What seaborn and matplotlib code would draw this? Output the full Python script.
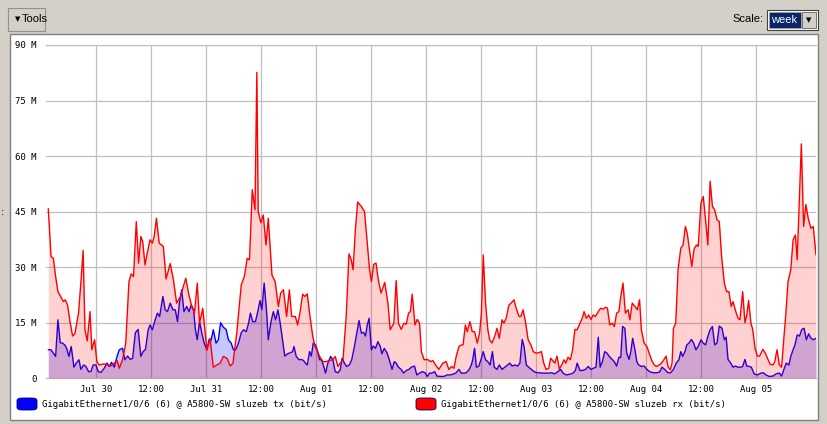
import numpy as np
import pandas as pd
import matplotlib
matplotlib.use("Agg")
import matplotlib.pyplot as plt
import seaborn as sns
from matplotlib.patches import Rectangle, FancyBboxPatch

# ---- data: hours relative to Jul 30 00:00, values in Mbit/s ----
rx_hours = [-10.5,-9.9,-9.4,-8.9,-8.4,-7.8,-7.2,-6.8,-6.3,-5.7,-5.2,-4.7,-3.9,-3.4,-2.9,-2.5,-2.0,-1.4,-1.0,-0.4,
            0.1,0.6,1.7,2.4,3.1,3.9,4.5,5.0,5.7,6.4,7.1,7.6,8.1,8.7,9.2,9.7,10.1,10.6,11.1,11.7,
            12.2,12.6,13.1,13.7,14.6,15.2,16.1,16.8,17.5,18.3,19.5,20.1,20.8,21.4,22.0,22.5,23.2,24.1,24.8,25.5,
            26.3,27.0,27.7,28.5,29.2,29.8,30.1,30.6,31.6,32.3,32.9,33.4,34.0,34.6,35.0,35.3,35.9,36.4,37.0,37.5,
            38.3,39.0,39.7,40.2,40.8,41.5,42.1,42.6,43.4,43.9,44.4,45.0,45.5,46.0,46.6,47.2,47.7,48.1,48.7,49.4,
            50.1,50.8,51.6,52.1,52.7,53.2,53.8,54.5,55.1,55.6,56.0,56.5,57.0,57.8,58.5,59.1,59.6,60.0,60.5,61.0,
            61.5,62.1,62.9,63.6,64.1,64.9,65.4,65.9,66.5,67.1,67.6,68.1,68.5,68.9,69.5,70.0,70.5,70.9,71.5,72.2,
            72.9,73.4,74.0,74.7,75.6,76.3,76.9,77.5,78.0,78.5,79.1,79.6,80.0,80.5,80.9,81.5,82.0,82.5,83.1,83.6,
            84.0,84.4,84.9,85.4,85.8,86.3,86.9,87.4,87.9,88.5,88.9,89.4,90.0,90.5,91.1,91.6,92.2,92.6,93.1,93.6,
            94.2,94.8,95.3,95.9,96.5,97.1,97.6,98.1,98.7,99.1,99.4,100.0,100.5,101.0,101.5,102.0,102.4,102.9,103.4,103.9,
            104.4,104.9,105.5,106.0,106.4,106.9,107.4,107.9,108.4,108.9,109.5,110.0,110.6,111.1,111.5,112.0,112.5,113.0,113.5,114.0,
            114.4,114.9,115.4,116.0,116.4,116.9,117.5,118.0,118.5,118.9,119.5,120.1,120.6,121.1,121.7,122.2,122.8,123.3,123.8,124.3,
            124.7,125.2,125.6,125.9,126.4,126.9,127.5,128.0,128.5,128.9,129.5,129.9,130.4,130.9,131.3,131.9,132.4,132.9,133.4,133.9,
            134.4,134.9,135.4,135.9,136.4,137.0,137.5,138.0,138.5,138.9,139.5,140.0,140.4,141.0,141.5,141.9,142.3,142.8,143.2,143.7,
            144.2,144.7,145.4,145.9,146.4,147.0,147.6,148.0,148.5,149.0,149.5,149.9,150.4,150.9,151.5,152.0,152.5,152.9,153.4,153.8,
            154.3,154.8,155.3,155.9,156.4,157.0]
rx_mbit = [45.8,32.9,32.4,27.5,23.4,22.1,20.7,21.2,19.8,14.9,11.4,12.0,17.6,25.7,34.5,13.1,10.1,18.0,7.7,10.4,
           4.5,3.6,3.9,3.6,3.3,4.1,4.8,2.7,5.0,9.5,26.1,28.2,27.5,42.3,31.1,38.3,36.9,30.6,33.8,37.4,
           36.5,38.3,43.2,36.5,35.6,26.8,31.0,26.6,20.3,22.0,27.0,23.0,19.4,17.6,25.7,14.9,18.9,7.6,10.8,3.0,
           3.6,4.1,5.9,5.4,3.3,4.1,7.2,12.0,25.2,27.6,32.4,32.0,50.9,45.5,82.6,45.0,42.0,44.1,36.0,43.2,
           27.9,26.1,19.4,23.0,23.9,16.7,23.9,16.7,16.7,14.4,17.6,22.7,22.1,22.8,16.7,11.3,8.6,7.7,5.9,4.5,
           4.5,4.8,5.0,5.9,3.2,4.1,5.0,16.7,33.6,32.0,29.3,40.1,47.6,46.4,45.0,36.5,29.3,26.1,30.8,31.1,
           26.6,23.0,25.9,20.3,13.1,14.9,26.4,14.9,13.2,14.9,14.6,17.6,18.0,22.7,14.4,15.9,14.9,7.2,5.0,5.1,
           4.5,4.8,3.6,2.4,4.1,4.5,2.4,3.2,2.7,5.9,8.6,9.0,9.0,14.4,12.6,15.3,12.6,12.6,9.5,12.2,
           17.6,33.3,20.3,13.1,10.4,9.5,11.3,13.5,10.8,15.8,14.9,16.2,19.8,20.3,21.2,18.9,16.7,16.7,18.5,15.3,
           10.4,9.0,7.2,6.8,6.9,7.2,4.1,2.4,2.7,5.4,5.0,4.1,6.0,2.4,3.6,5.0,4.1,5.7,5.0,7.7,
           13.2,13.1,14.9,16.2,18.0,16.2,17.1,15.9,17.1,16.7,18.0,18.9,18.7,19.2,18.9,14.4,14.9,14.0,17.6,18.0,
           22.1,25.7,17.6,18.5,15.8,20.3,19.4,18.5,21.2,13.1,9.5,8.6,6.8,5.0,3.6,3.2,3.6,4.1,5.0,6.0,
           3.2,2.3,4.1,13.5,14.9,29.3,35.1,36.0,41.0,39.2,33.8,30.2,34.9,36.0,35.6,47.3,49.1,42.8,36.0,53.2,
           46.4,45.5,42.8,42.3,32.9,25.7,23.4,23.4,19.4,20.7,18.0,16.2,15.8,23.4,15.0,17.1,21.0,14.9,13.1,8.1,
           6.0,6.0,7.8,6.9,5.4,3.8,3.6,4.5,7.7,3.6,3.0,9.5,17.1,26.1,29.3,37.4,38.7,32.0,49.1,63.3,
           41.0,46.9,43.2,40.5,41.0,33.3]

tx_hours = [-10.5,-9.9,-9.4,-8.9,-8.4,-7.9,-7.4,-6.9,-6.5,-6.0,-5.5,-4.9,-4.4,-3.8,-3.4,-2.8,-2.3,-1.7,-1.2,-0.7,
            -0.1,0.4,1.0,1.7,2.3,2.8,3.3,3.9,4.5,5.0,5.7,6.2,6.8,7.4,7.9,8.5,9.1,9.7,10.2,10.7,
            11.3,11.7,12.2,12.7,13.3,13.8,14.5,15.0,15.5,16.1,16.7,17.2,17.7,18.1,18.6,19.1,19.7,20.2,20.7,21.2,
            21.6,22.0,22.5,23.0,23.5,24.1,24.6,25.0,25.5,26.1,26.6,27.1,27.7,28.3,28.8,29.4,29.9,30.4,31.0,31.6,
            32.1,32.7,33.2,33.6,34.1,34.7,35.2,35.7,36.1,36.6,37.1,37.5,38.1,38.6,39.1,39.6,40.1,40.6,41.1,41.7,
            42.3,42.8,43.1,43.6,44.2,44.7,45.2,45.6,46.0,46.5,46.9,47.3,47.8,48.2,48.7,49.1,49.5,50.0,50.5,51.1,
            51.6,52.1,52.7,53.2,53.6,54.1,54.6,55.2,55.7,56.3,56.8,57.3,57.8,58.3,58.7,59.1,59.5,60.0,60.4,60.9,
            61.4,61.9,62.3,62.8,63.4,63.9,64.5,65.0,65.4,65.9,66.5,67.0,67.6,68.2,68.7,69.4,69.9,70.5,71.1,71.7,
            72.2,72.7,73.2,73.8,74.3,75.1,75.8,76.5,77.2,78.0,78.5,79.1,79.6,80.2,80.7,81.3,81.8,82.1,82.5,82.9,
            83.4,83.9,84.4,84.9,85.4,85.9,86.4,86.8,87.4,87.9,88.5,89.1,89.7,90.2,90.7,91.3,91.9,92.4,92.9,93.3,
            93.8,94.3,94.9,95.5,96.1,96.7,97.2,98.0,98.7,99.3,100.0,100.7,101.3,101.8,102.5,103.3,104.0,104.5,104.9,105.5,
            106.0,106.7,107.3,107.9,108.4,109.0,109.5,109.9,110.4,110.9,111.4,111.9,112.5,113.0,113.5,114.0,114.4,114.8,115.3,115.7,
            116.2,116.6,117.0,117.5,117.9,118.3,118.9,119.5,120.1,120.7,121.5,122.2,122.9,123.4,124.0,124.7,125.3,125.9,126.5,127.1,
            127.5,127.9,128.4,128.8,129.3,129.8,130.3,130.8,131.3,131.9,132.4,132.9,133.4,133.9,134.4,134.9,135.4,135.9,136.5,137.0,
            137.4,137.8,138.4,138.9,139.4,140.0,140.6,141.0,141.5,141.9,142.4,142.9,143.5,144.2,145.0,145.5,146.1,146.8,147.6,148.3,
            149.0,149.5,150.0,150.5,151.1,151.5,152.0,152.4,152.9,153.4,153.9,154.4,154.9,155.4,155.9,156.4,157.0]
tx_mbit = [7.7,7.7,6.8,5.9,15.8,9.6,9.5,9.0,8.1,5.9,8.6,3.0,4.1,5.0,2.4,3.6,3.2,1.8,1.8,3.6,
           3.6,1.8,1.6,2.7,4.1,3.2,4.3,3.0,5.9,7.7,8.1,5.0,6.0,5.1,5.4,12.3,13.2,5.9,7.2,7.8,
           13.1,14.4,13.1,15.3,17.6,16.7,22.1,18.5,18.0,20.3,18.5,18.5,15.3,20.3,23.9,18.0,19.4,18.0,19.8,18.5,
           13.1,10.4,15.3,12.2,9.5,7.7,10.5,10.2,13.1,9.5,10.4,15.0,13.8,13.2,10.4,9.5,7.7,7.7,9.5,12.3,
           13.1,12.6,14.9,17.6,15.3,15.3,18.0,21.0,18.5,25.7,18.5,10.4,15.3,18.0,15.8,18.5,14.9,10.4,6.0,6.6,
           6.9,7.2,8.6,5.9,5.0,5.1,4.8,4.1,3.6,7.2,6.0,9.5,9.0,7.5,5.0,5.0,3.6,1.4,4.1,5.9,
           5.0,1.8,1.5,2.3,5.4,4.1,3.2,3.6,5.0,8.6,12.2,15.6,12.2,12.4,11.4,14.4,16.2,7.7,8.7,8.1,
           9.9,8.7,6.6,8.1,6.9,5.0,2.4,4.5,4.1,3.0,2.4,1.4,2.1,2.4,3.0,3.3,0.9,1.4,1.8,1.5,
           0.5,1.4,1.4,1.8,0.6,0.5,0.5,0.9,0.9,1.2,1.5,2.4,1.4,1.4,1.5,2.3,3.6,5.0,8.1,3.0,
           3.2,5.0,7.2,5.0,4.5,3.6,7.2,3.0,2.4,3.6,2.4,3.0,3.6,4.1,3.3,3.6,3.3,4.1,10.5,8.6,
           3.6,3.0,2.4,1.8,1.5,1.5,1.4,1.4,1.4,1.5,1.2,1.8,2.4,1.4,0.9,1.1,1.4,2.1,4.1,2.1,
           2.1,2.4,3.2,2.4,2.7,3.0,11.1,3.0,4.5,7.2,6.8,5.9,5.1,4.5,3.3,5.7,5.6,14.0,13.5,6.8,
           5.1,7.2,10.8,7.7,4.5,3.6,3.2,3.3,2.4,1.8,1.5,1.5,1.7,3.0,2.4,1.5,1.5,2.4,4.1,5.0,
           7.2,5.9,7.2,9.0,9.5,10.5,9.5,7.7,8.6,10.4,9.5,9.0,11.3,13.1,14.0,9.0,9.5,14.1,13.5,10.4,
           11.1,5.1,4.1,3.0,3.3,3.0,3.0,3.2,5.1,3.3,3.2,3.0,1.2,0.9,1.4,1.5,0.9,0.5,0.6,1.2,
           1.4,0.6,2.4,4.1,3.6,5.9,7.7,9.0,11.7,11.4,13.2,13.5,10.4,12.0,10.8,10.4,10.8]

tick_hours = [0, 12, 24, 36, 48, 60, 72, 84, 96, 108, 120, 132, 144]
tick_labels = ["Jul 30", "12:00", "Jul 31", "12:00", "Aug 01", "12:00", "Aug 02",
               "12:00", "Aug 03", "12:00", "Aug 04", "12:00", "Aug 05"]
y_ticks = [0, 15, 30, 45, 60, 75, 90]
y_labels = ["0", "15 M", "30 M", "45 M", "60 M", "75 M", "90 M"]
series_names = ["GigabitEthernet1/0/6 (6) @ A5800-SW sluzeb tx (bit/s)",
                "GigabitEthernet1/0/6 (6) @ A5800-SW sluzeb rx (bit/s)"]

tx_df = pd.DataFrame({"hour": tx_hours, "mbit": tx_mbit})
rx_df = pd.DataFrame({"hour": rx_hours, "mbit": rx_mbit})

# ---- figure / layout ----
W, H = 827, 424
sns.set_style("white")
plt.rcParams["font.family"] = ["DejaVu Sans"]
fig = plt.figure(figsize=(W / 100, H / 100), dpi=100, facecolor="#D4D0C8")

def fx(px):
    return px / W

def fy(py):
    return 1 - py / H

mono = "DejaVu Sans Mono"

# white panel
fig.patches.append(Rectangle((fx(10), fy(420)), (818 - 10) / W, (420 - 34) / H,
                             transform=fig.transFigure, facecolor="white",
                             edgecolor="#808080", lw=1, zorder=-2))

ax = fig.add_axes([fx(46), fy(378.3), (816 - 46) / W, (378.3 - 45) / H])
ax.set_facecolor("none")

ax.fill_between(tx_df["hour"], 0, tx_df["mbit"], color=(0, 0, 1, 0.22), lw=0, zorder=2)
sns.lineplot(data=tx_df, x="hour", y="mbit", color="#0000FF", lw=1.0, ax=ax,
             estimator=None, sort=False, zorder=3)
ax.fill_between(rx_df["hour"], 0, rx_df["mbit"], color=(1, 0, 0, 0.18), lw=0, zorder=4)
sns.lineplot(data=rx_df, x="hour", y="mbit", color="#FF0000", lw=1.0, ax=ax,
             estimator=None, sort=False, zorder=5)

ax.set_xlim(-11.0, 157.0)
ax.set_ylim(0, 90)
ax.set_xticks(tick_hours)
ax.set_xticklabels(tick_labels, fontfamily=mono, fontsize=6.5, color="black")
ax.set_yticks(y_ticks)
ax.set_yticklabels(y_labels, fontfamily=mono, fontsize=6.5, color="black")
ax.tick_params(axis="x", length=0, pad=4.5)
ax.tick_params(axis="y", length=0, pad=6.5)
ax.set_xlabel("")
ax.set_ylabel("")
ax.grid(True, color="#C0C0C0", lw=0.9)
ax.set_axisbelow(True)
for side in ["left", "right"]:
    ax.spines[side].set_visible(False)
for side in ["top", "bottom"]:
    ax.spines[side].set_color("#C0C0C0")
    ax.spines[side].set_linewidth(0.9)

# legend
legend_items = [(series_names[0], "#0000FF", 17), (series_names[1], "#FF0000", 416)]
for name, col, x0 in legend_items:
    fig.patches.append(FancyBboxPatch((fx(x0), fy(410)), 20 / W, 12 / H,
                                      boxstyle="round,pad=0,rounding_size=0.006",
                                      transform=fig.transFigure, facecolor=col,
                                      edgecolor="#000060", lw=0.6, zorder=3))
    fig.text(fx(x0 + 25), fy(404.5), name, fontfamily=mono, fontsize=6.5,
             va="center", ha="left", color="black", zorder=6)

# top toolbar
fig.patches.append(Rectangle((fx(8), fy(31)), 37 / W, 23 / H, transform=fig.transFigure,
                             facecolor="#D4D0C8", edgecolor="#909090", lw=0.8, zorder=3))
fig.text(fx(18), fy(19.5), "\u25BC", fontsize=5, ha="center", va="center", color="black", zorder=6)
fig.text(fx(21.5), fy(19.5), "Tools", fontfamily="Liberation Sans", fontsize=8,
         ha="left", va="center", color="black", zorder=6)
fig.text(fx(763), fy(19.5), "Scale:", fontfamily="Liberation Sans", fontsize=8,
         ha="right", va="center", color="black", zorder=6)
fig.patches.append(Rectangle((fx(767), fy(30)), 51 / W, 20 / H, transform=fig.transFigure,
                             facecolor="white", edgecolor="#404040", lw=0.8, zorder=3))
fig.patches.append(Rectangle((fx(769), fy(28)), 32 / W, 16 / H, transform=fig.transFigure,
                             facecolor="#0A246A", edgecolor="#E0C060", lw=0.5,
                             linestyle=":", zorder=4))
fig.text(fx(771), fy(20), "week", fontfamily="Liberation Sans", fontsize=8,
         ha="left", va="center", color="white", zorder=6)
fig.patches.append(Rectangle((fx(802), fy(28)), 14 / W, 16 / H, transform=fig.transFigure,
                             facecolor="#D4D0C8", edgecolor="#606060", lw=0.6, zorder=4))
fig.text(fx(809), fy(20), "\u25BC", fontsize=5, ha="center", va="center", color="black", zorder=6)
fig.text(fx(3), fy(212), ":", fontsize=7, ha="center", va="center", color="black", zorder=6)

fig.savefig("out.png", dpi=100, facecolor=fig.get_facecolor())
